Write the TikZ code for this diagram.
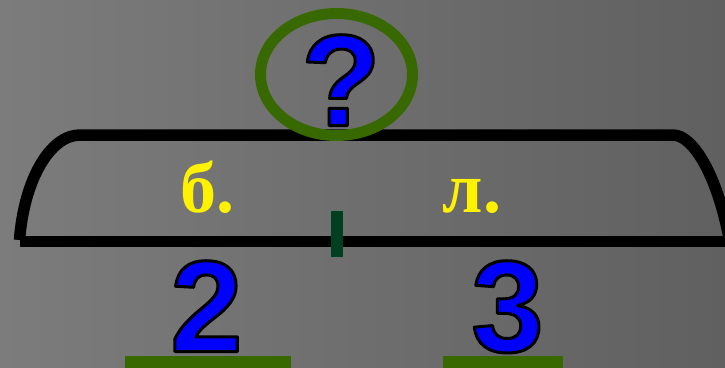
\documentclass[tikz,border=0pt]{standalone}
\usepackage{fontspec}
\newfontfamily\numfont{Liberation Sans}
\newfontfamily\serfont{Liberation Serif}
\definecolor{bgL}{RGB}{124,124,124}
\definecolor{bgR}{RGB}{96,96,96}
\definecolor{ringgreen}{RGB}{56,104,0}
\definecolor{tickgreen}{RGB}{0,64,32}
\definecolor{glyphblue}{RGB}{0,0,255}
% blue glyph with a thin black outline (fill + stroke text render mode)
\newcommand\outlinedtext[1]{%
  \special{pdf:code q 0 0 0 RG 2 Tr 3 w 1 j}#1\special{pdf:code Q}}
\begin{document}
\begin{tikzpicture}[x=1pt,y=-1pt,
  bigglyph/.style={inner sep=0pt, anchor=base, text=glyphblue, font=\numfont\bfseries\fontsize{130}{130}\selectfont},
  lettr/.style={inner sep=0pt, anchor=base, text=yellow, font=\serfont\bfseries\fontsize{72}{72}\selectfont},
  beam/.style={line width=11.5pt, black, line cap=butt, line join=round}]
\shade[left color=bgL, right color=bgR] (0,0) rectangle (725,367);
\useasboundingbox (0,0) rectangle (725,367);
% frame of the brace
\draw[beam] (19.5,240) .. controls (24,180) and (50,135) .. (80,135)
  -- (673,135) .. controls (693,135) and (717,175) .. (729,238);
\draw[beam] (20,241.5) -- (732,241.5);
% middle tick
\fill[tickgreen] (331,211) rectangle (343,257);
% ring
\draw[ringgreen, line width=11pt] (336.5,74.5) ellipse [x radius=76pt, y radius=61pt];
% question mark
\node[bigglyph] (q) at (341,125.5) {\outlinedtext{?}};
% letters
\node[lettr] (b) at (207,212) {б.};
\node[lettr] (l) at (472,212) {л.};
% numbers
\node[bigglyph] (two) at (206.5,351.5) {\outlinedtext{2}};
\node[bigglyph] (three) at (507.5,351.5) {\outlinedtext{3}};
% bars
\fill[ringgreen] (125,356) rectangle (291,368);
\fill[ringgreen] (443,356) rectangle (563,368);
\end{tikzpicture}
\end{document}
